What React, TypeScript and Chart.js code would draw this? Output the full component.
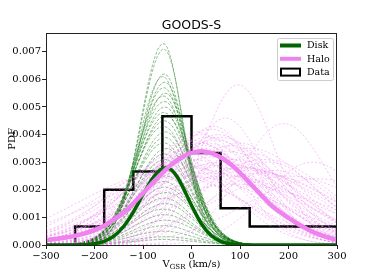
import { useEffect, useRef } from "react";
import { Chart, registerables } from "chart.js";
Chart.register(...registerables);

// ---- data ----
const titleText = "GOODS-S";
const xTicks = [-300, -200, -100, 0, 100, 200, 300];
const yTicks = [0, 0.001, 0.002, 0.003, 0.004, 0.005, 0.006, 0.007];

// thick "Disk" curve (best fit)
const diskX = [-300, -250, -200, -180, -160, -140, -120, -100, -80, -70, -60, -50, -40, -30, -20, 0, 20, 40, 60, 80, 100, 150, 200, 300];
const diskY = [0, 0.000002, 0.00005, 0.000135, 0.00032, 0.00067, 0.00119, 0.00183, 0.00242, 0.00263, 0.00277, 0.0028, 0.0027, 0.00248, 0.00217, 0.00144, 0.00078, 0.00035, 0.00013, 0.00004, 0.00001, 0, 0, 0];

// thick "Halo" curve (best fit)
const haloX = [-300, -280, -260, -240, -220, -200, -180, -160, -140, -120, -100, -80, -60, -40, -20, 0, 20, 40, 60, 80, 100, 120, 140, 160, 180, 200, 220, 240, 260, 280, 300];
const haloY = [0.00018, 0.00022, 0.00027, 0.00033, 0.00042, 0.00054, 0.0007, 0.00092, 0.00118, 0.00151, 0.00188, 0.00225, 0.00261, 0.00293, 0.00318, 0.00334, 0.0034, 0.00334, 0.00318, 0.00293, 0.00261, 0.00225, 0.00188, 0.00151, 0.00122, 0.00098, 0.00076, 0.00056, 0.0004, 0.00028, 0.00018];

// histogram ("Data")
const histEdges = [-240, -180, -120, -60, 0, 60, 120, 180, 240, 300];
const histDensity = [0.000667, 0.002, 0.002667, 0.004667, 0.003333, 0.001333, 0.000667, 0.000667, 0.000667];

// thin disk samples: peak height, centre, left / right widths
const diskPeaks = [0.0073, 0.0071, 0.0062, 0.0061, 0.0059, 0.0057, 0.0055, 0.0054, 0.0052, 0.005, 0.0048, 0.0047, 0.0045, 0.0043, 0.0041, 0.0039, 0.0037, 0.0035, 0.0033, 0.0031, 0.0029, 0.0027, 0.0025, 0.0023, 0.0021, 0.0019, 0.0017, 0.0015, 0.0013, 0.0011, 0.0009, 0.0007, 0.0005, 0.0003, 0.0002];
const diskMeans = [-58, -57, -56, -59, -55, -57, -54, -58, -56, -55, -57, -53, -56, -58, -54, -55, -57, -52, -56, -55, -58, -54, -53, -57, -55, -52, -56, -54, -58, -55, -53, -56, -57, -54, -55];
const diskSigL = [47, 48, 50, 51, 53, 54, 55, 56, 57, 58, 59, 60, 60, 61, 61, 62, 62, 62, 62, 63, 63, 63, 63, 64, 64, 64, 64, 65, 65, 65, 66, 66, 67, 68, 70];
const diskSigR = [40, 41, 44, 45, 47, 48, 50, 50, 52, 53, 54, 54, 55, 55, 55, 55, 56, 56, 56, 56, 57, 57, 57, 57, 58, 58, 58, 58, 59, 59, 60, 60, 60, 62, 64];

// thin halo samples: peak height, centre, width
const haloPeaks = [0.0058, 0.0046, 0.0044, 0.0042, 0.004, 0.0039, 0.0038, 0.0037, 0.0036, 0.0035, 0.0034, 0.0033, 0.0032, 0.0031, 0.003, 0.003, 0.0028, 0.0028, 0.0026, 0.0025, 0.0034, 0.0036, 0.0032, 0.0033, 0.0027, 0.0025, 0.0041, 0.0043, 0.0027, 0.0022, 0.0024, 0.0039, 0.0026,
  0.003, 0.0029, 0.0028, 0.0035, 0.0038, 0.0031, 0.0026, 0.0031, 0.0029, 0.0025, 0.0027, 0.0029, 0.003, 0.0037, 0.0037, 0.004];
const haloMeans = [96, 70, 190, 40, 20, 60, 0, 30, 80, 120, -20, 10, 50, 150, 250, -40, 0, 100, 40, -10, 70, 25, -30, 130, 170, 200, 10, 45, -50, 90, 260, 35, -60,
  60, 80, 110, 20, 50, 90, 140, 0, 30, 70, 120, -20, 160, 100, 15, 55];
const haloSigmas = [75, 80, 90, 100, 110, 120, 120, 130, 110, 130, 120, 140, 150, 140, 100, 130, 160, 170, 180, 190, 140, 100, 110, 100, 130, 160, 90, 90, 150, 200, 150, 125, 170,
  150, 160, 150, 130, 120, 130, 160, 140, 160, 180, 170, 150, 110, 100, 115, 105];

const minus = (v: number) => (v < 0 ? "\u2212" + Math.abs(v) : String(v));

function curve(peak: number, mu: number, sL: number, sR: number) {
  const pts: { x: number; y: number }[] = [];
  for (let x = -300; x <= 300; x += 5) {
    const s = x < mu ? sL : sR;
    pts.push({ x, y: peak * Math.exp(-((x - mu) * (x - mu)) / (2 * s * s)) });
  }
  return pts;
}

const overlay = {
  id: "overlay",
  afterDatasetsDraw(chart: any) {
    const { ctx, chartArea } = chart;
    const { left, top, right, bottom } = chartArea;
    ctx.save();
    ctx.strokeStyle = "#222";
    ctx.lineWidth = 1;
    ctx.strokeRect(left + 0.5, top + 0.5, right - left - 1, bottom - top);
    ctx.fillStyle = "#000";
    ctx.font = '12.5px "DejaVu Sans"';
    ctx.textAlign = "center";
    ctx.textBaseline = "alphabetic";
    ctx.fillText(titleText, (left + right) / 2, 29);
    ctx.save();
    ctx.translate(15, (top + bottom) / 2);
    ctx.rotate(-Math.PI / 2);
    ctx.font = '10px "DejaVu Serif"';
    ctx.textAlign = "center";
    ctx.fillText("PDF", 0, 0);
    ctx.restore();
    ctx.textAlign = "left";
    ctx.font = '10px "DejaVu Serif"';
    const wV = ctx.measureText("V").width;
    ctx.font = '7px "DejaVu Serif"';
    const wS = ctx.measureText("GSR").width;
    ctx.font = '10px "DejaVu Serif"';
    const wR = ctx.measureText(" (km/s)").width;
    const total = wV + wS + wR;
    const x0 = (left + right) / 2 - total / 2;
    const yb = 267;
    ctx.fillText("V", x0, yb);
    ctx.font = '7px "DejaVu Serif"';
    ctx.fillText("GSR", x0 + wV, yb + 1.5);
    ctx.font = '10px "DejaVu Serif"';
    ctx.fillText(" (km/s)", x0 + wV + wS, yb);
    const bx = right - 60, by = top + 5, bw = 56, bh = 42;
    ctx.fillStyle = "rgba(255,255,255,0.85)";
    ctx.strokeStyle = "#cccccc";
    ctx.lineWidth = 1;
    ctx.beginPath();
    (ctx as any).roundRect(bx + 0.5, by + 0.5, bw, bh, 2);
    ctx.fill();
    ctx.stroke();
    const entries = [
      { label: "Disk", color: "#006400", kind: "line" },
      { label: "Halo", color: "#ee82ee", kind: "line" },
      { label: "Data", color: "#000", kind: "box" },
    ];
    ctx.font = '9.5px "DejaVu Serif"';
    ctx.textBaseline = "middle";
    entries.forEach((e, i) => {
      const yy = by + 7.5 + i * 13.3;
      if (e.kind === "line") {
        ctx.strokeStyle = e.color;
        ctx.lineWidth = 4;
        ctx.beginPath();
        ctx.moveTo(bx + 3, yy);
        ctx.lineTo(bx + 24, yy);
        ctx.stroke();
      } else {
        ctx.strokeStyle = "#000";
        ctx.lineWidth = 2;
        ctx.fillStyle = "#fff";
        ctx.fillRect(bx + 4, yy - 3.5, 19, 7);
        ctx.strokeRect(bx + 4, yy - 3.5, 19, 7);
      }
      ctx.fillStyle = "#000";
      ctx.textAlign = "left";
      ctx.fillText(e.label, bx + 30, yy + 0.5);
    });
    ctx.restore();
  },
};

export default function App() {
  const ref = useRef<HTMLCanvasElement>(null);
  useEffect(() => {
    if (!ref.current) return;
    const histPts: { x: number; y: number }[] = [{ x: histEdges[0], y: 0 }];
    histDensity.forEach((h, i) => {
      histPts.push({ x: histEdges[i], y: h });
      histPts.push({ x: histEdges[i + 1], y: h });
    });
    histPts.push({ x: histEdges[histEdges.length - 1], y: 0 });

    const thinHalo = haloPeaks.map((p, i) => ({
      data: curve(p, haloMeans[i], haloSigmas[i], haloSigmas[i]),
      borderColor: "rgba(238,130,238,0.6)",
      borderWidth: 0.8,
      borderDash: [2, 2],
      pointRadius: 0,
      showLine: true,
    }));
    const thinDisk = diskPeaks.map((p, i) => ({
      data: curve(p, diskMeans[i], diskSigL[i], diskSigR[i]),
      borderColor: "rgba(0,110,0,0.55)",
      borderWidth: 0.8,
      borderDash: [3, 1.5],
      pointRadius: 0,
      showLine: true,
    }));

    const chart = new Chart(ref.current, {
      type: "scatter",
      data: {
        datasets: [
          {
            data: haloX.map((x, i) => ({ x, y: haloY[i] })),
            borderColor: "#ee82ee",
            borderWidth: 4.5,
            pointRadius: 0,
            showLine: true,
            cubicInterpolationMode: "monotone",
          } as any,
          {
            data: diskX.map((x, i) => ({ x, y: diskY[i] })),
            borderColor: "#006400",
            borderWidth: 3.5,
            pointRadius: 0,
            showLine: true,
            cubicInterpolationMode: "monotone",
          },
          ...thinHalo,
          ...thinDisk,
          {
            data: histPts,
            borderColor: "#000",
            borderWidth: 2.5,
            pointRadius: 0,
            showLine: true,
          },
        ],
      },
      options: {
        animation: false,
        responsive: false,
        devicePixelRatio: 1,
        layout: { padding: { top: 33, right: 37, left: 0, bottom: 0 } },
        plugins: { legend: { display: false }, tooltip: { enabled: false }, title: { display: false } },
        scales: {
          x: {
            type: "linear",
            min: -300,
            max: 300,
            afterBuildTicks: (s: any) => {
              s.ticks = xTicks.map((v) => ({ value: v }));
            },
            afterFit: (s: any) => {
              s.height = 35;
            },
            ticks: {
              callback: (v: any) => minus(Number(v)),
              font: { family: "DejaVu Serif", size: 10 },
              color: "#000",
              padding: 1,
              maxRotation: 0,
              autoSkip: false,
            },
            grid: { drawOnChartArea: false, drawTicks: true, tickLength: 4, color: "#222" },
            border: { display: false },
          },
          y: {
            type: "linear",
            min: 0,
            max: 0.00768,
            afterBuildTicks: (s: any) => {
              s.ticks = yTicks.map((v) => ({ value: v }));
            },
            afterFit: (s: any) => {
              s.width = 46;
            },
            ticks: {
              callback: (v: any) => Number(v).toFixed(3),
              font: { family: "DejaVu Serif", size: 10 },
              color: "#000",
              padding: 1,
              autoSkip: false,
            },
            grid: { drawOnChartArea: false, drawTicks: true, tickLength: 4, color: "#222" },
            border: { display: false },
          },
        },
      } as any,
      plugins: [overlay],
    });
    return () => chart.destroy();
  }, []);
  return (
    <div style={{ position: "fixed", left: 0, top: 0, width: 374, height: 280, background: "#fff" }}>
      <canvas ref={ref} width={374} height={280} style={{ width: 374, height: 280, display: "block" }} />
    </div>
  );
}
